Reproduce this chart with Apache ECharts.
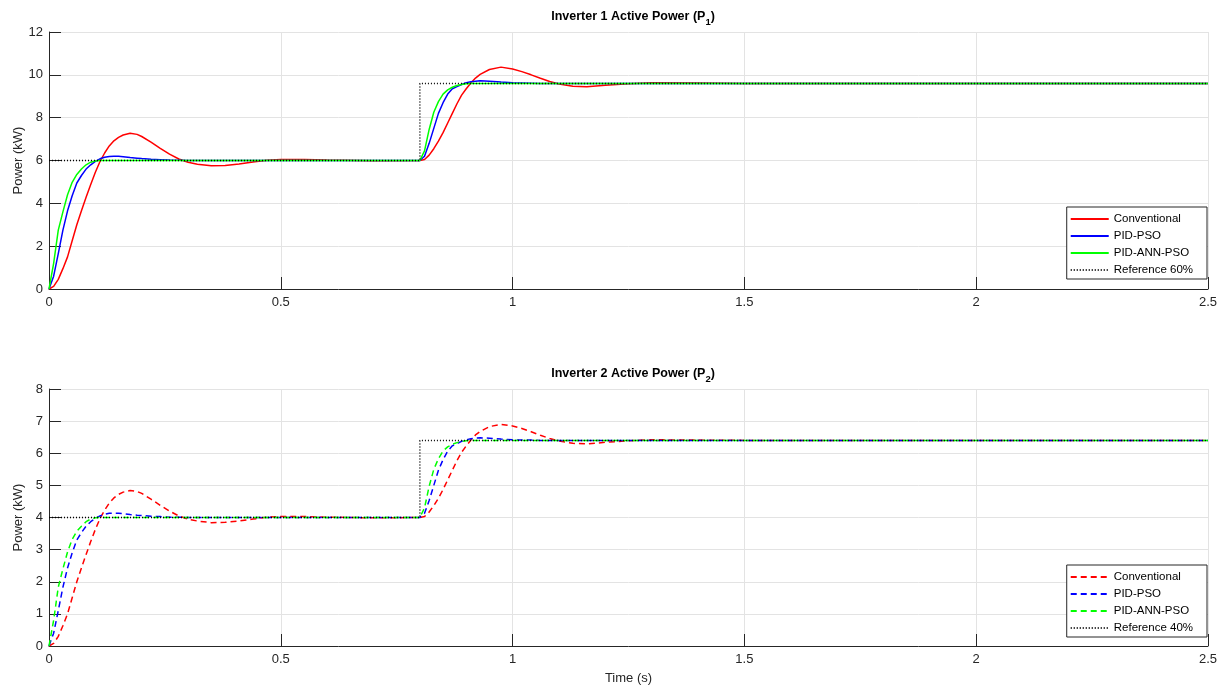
<!DOCTYPE html>
<html>
<head>
<meta charset="utf-8">
<title>Inverter Active Power</title>
<script src="https://cdn.jsdelivr.net/npm/echarts@6/dist/echarts.min.js"></script>
<style>
  html, body { margin: 0; padding: 0; background: #fff; }
  #chart { width: 1227px; height: 693px; }
</style>
</head>
<body>
<div id="chart"></div>
<script>
// time samples (s)
var timeS = [
  0, 0.01, 0.02, 0.03, 0.04, 0.05, 0.06, 0.07, 0.08, 0.09,
  0.10, 0.11, 0.12, 0.13, 0.14, 0.15, 0.16, 0.175, 0.19, 0.20,
  0.22, 0.24, 0.26, 0.28, 0.30, 0.32, 0.35, 0.38, 0.41, 0.44,
  0.47, 0.50, 0.55, 0.60, 0.70, 0.80, 0.81, 0.82, 0.83, 0.84,
  0.85, 0.86, 0.87, 0.88, 0.89, 0.90, 0.91, 0.92, 0.93, 0.95,
  0.975, 1.00, 1.02, 1.04, 1.06, 1.08, 1.10, 1.13, 1.16, 1.20,
  1.25, 1.30, 1.40, 1.50, 2.00, 2.50
];

// inverter 1 (kW)
var p1Conventional = [
  0, 0.12, 0.45, 0.95, 1.5, 2.25, 3.0, 3.65, 4.28, 4.88,
  5.45, 5.95, 6.35, 6.68, 6.92, 7.08, 7.19, 7.27, 7.22, 7.12,
  6.86, 6.57, 6.3, 6.07, 5.92, 5.83, 5.76, 5.77, 5.84, 5.93,
  6.01, 6.05, 6.05, 6.02, 5.99, 6.0, 6.05, 6.25, 6.55, 6.9,
  7.3, 7.75, 8.2, 8.65, 9.05, 9.35, 9.62, 9.85, 10.02, 10.25,
  10.36, 10.27, 10.15, 10.0, 9.84, 9.69, 9.57, 9.47, 9.44, 9.51,
  9.58, 9.63, 9.62, 9.6, 9.6, 9.6
];
var p1PidPso = [
  0, 0.6, 1.65, 2.75, 3.65, 4.35, 4.95, 5.3, 5.6, 5.8,
  5.96, 6.08, 6.15, 6.19, 6.2, 6.2, 6.18, 6.14, 6.11, 6.09,
  6.06, 6.04, 6.02, 6.01, 6.0, 6.0, 6.0, 6.0, 6.0, 6.0,
  6.0, 6.0, 6.0, 6.0, 6.0, 6.0, 6.2, 6.8, 7.5, 8.2,
  8.7, 9.1, 9.35, 9.45, 9.55, 9.63, 9.68, 9.7, 9.72, 9.7,
  9.66, 9.63, 9.62, 9.61, 9.6, 9.6, 9.6, 9.6, 9.6, 9.6,
  9.6, 9.6, 9.6, 9.6, 9.6, 9.6
];
var p1PidAnnPso = [
  0, 1.2, 2.75, 3.6, 4.4, 4.98, 5.35, 5.6, 5.8, 5.92,
  5.98, 6.0, 6.0, 6.0, 6.0, 6.0, 6.0, 6.0, 6.0, 6.0,
  6.0, 6.0, 6.0, 6.0, 6.0, 6.0, 6.0, 6.0, 6.0, 6.0,
  6.0, 6.0, 6.0, 6.0, 6.0, 6.0, 6.45, 7.45, 8.25, 8.75,
  9.1, 9.3, 9.42, 9.5, 9.55, 9.58, 9.6, 9.6, 9.6, 9.6,
  9.6, 9.6, 9.6, 9.6, 9.6, 9.6, 9.6, 9.6, 9.6, 9.6,
  9.6, 9.6, 9.6, 9.6, 9.6, 9.6
];

// inverter 2 (kW)
var p2Conventional = [
  0, 0.08, 0.3, 0.63, 1.0, 1.5, 2.0, 2.43, 2.85, 3.25,
  3.63, 3.97, 4.23, 4.45, 4.61, 4.72, 4.79, 4.84, 4.81, 4.75,
  4.57, 4.38, 4.2, 4.05, 3.95, 3.89, 3.84, 3.85, 3.89, 3.95,
  4.01, 4.03, 4.03, 4.01, 3.99, 4.0, 4.03, 4.17, 4.37, 4.6,
  4.87, 5.17, 5.47, 5.77, 6.03, 6.23, 6.41, 6.57, 6.68, 6.83,
  6.9, 6.85, 6.77, 6.67, 6.56, 6.46, 6.38, 6.31, 6.29, 6.34,
  6.39, 6.42, 6.41, 6.4, 6.4, 6.4
];
var p2PidPso = [
  0, 0.4, 1.1, 1.83, 2.43, 2.9, 3.3, 3.53, 3.73, 3.87,
  3.97, 4.05, 4.1, 4.13, 4.13, 4.13, 4.12, 4.09, 4.07, 4.06,
  4.04, 4.03, 4.01, 4.01, 4.0, 4.0, 4.0, 4.0, 4.0, 4.0,
  4.0, 4.0, 4.0, 4.0, 4.0, 4.0, 4.13, 4.53, 5.0, 5.47,
  5.8, 6.07, 6.23, 6.3, 6.37, 6.42, 6.45, 6.47, 6.48, 6.47,
  6.44, 6.42, 6.41, 6.41, 6.4, 6.4, 6.4, 6.4, 6.4, 6.4,
  6.4, 6.4, 6.4, 6.4, 6.4, 6.4
];
var p2PidAnnPso = [
  0, 0.8, 1.83, 2.4, 2.93, 3.32, 3.57, 3.73, 3.87, 3.95,
  3.99, 4.0, 4.0, 4.0, 4.0, 4.0, 4.0, 4.0, 4.0, 4.0,
  4.0, 4.0, 4.0, 4.0, 4.0, 4.0, 4.0, 4.0, 4.0, 4.0,
  4.0, 4.0, 4.0, 4.0, 4.0, 4.0, 4.3, 4.97, 5.5, 5.83,
  6.07, 6.2, 6.28, 6.33, 6.37, 6.39, 6.4, 6.4, 6.4, 6.4,
  6.4, 6.4, 6.4, 6.4, 6.4, 6.4, 6.4, 6.4, 6.4, 6.4,
  6.4, 6.4, 6.4, 6.4, 6.4, 6.4
];

// reference step
var refTime = [0, 0.8, 0.8, 2.5];
var refP1 = [6, 6, 9.6, 9.6];
var refP2 = [4, 4, 6.4, 6.4];

var xTicks = ['0', '0.5', '1', '1.5', '2', '2.5'];
var legendNames = ['Conventional', 'PID-PSO', 'PID-ANN-PSO'];

var FONT = '"Liberation Sans", Arial, Helvetica, sans-serif';
var AX = '#262626';

function pairs(xs, ys) {
  return xs.map(function (x, i) { return [x, ys[i]]; });
}

function xAxis(idx, showName) {
  return {
    type: 'value', gridIndex: idx, min: 0, max: 2.5, interval: 0.5,
    name: showName ? 'Time (s)' : '', nameLocation: 'middle', nameGap: 26,
    nameTextStyle: { color: AX, fontSize: 13, fontFamily: FONT },
    axisLine: { onZero: false, lineStyle: { color: AX, width: 1 } },
    axisTick: { inside: true, length: 12, lineStyle: { color: AX } },
    axisLabel: { color: AX, fontSize: 13, fontFamily: FONT, margin: 7,
      formatter: function (v) { return xTicks[Math.round(v / 0.5)]; } },
    splitLine: { show: true, lineStyle: { color: '#e3e3e3', width: 1 } }
  };
}

function yAxis(idx, max, step) {
  return {
    type: 'value', gridIndex: idx, min: 0, max: max, interval: step,
    name: 'Power (kW)', nameLocation: 'middle', nameGap: 24, nameRotate: 90,
    nameMoveOverlap: false,
    nameTextStyle: { color: AX, fontSize: 13, fontFamily: FONT },
    axisLine: { show: true, lineStyle: { color: AX, width: 1 } },
    axisTick: { show: true, inside: true, length: 12, lineStyle: { color: AX } },
    axisLabel: { color: AX, fontSize: 13, fontFamily: FONT, margin: 6 },
    splitLine: { show: true, lineStyle: { color: '#e3e3e3', width: 1 } }
  };
}

function line(name, idx, xs, ys, color, type) {
  return {
    name: name, type: 'line', xAxisIndex: idx, yAxisIndex: idx,
    data: pairs(xs, ys), showSymbol: false, symbol: 'none',
    lineStyle: { color: color, width: 1.5, type: type },
    itemStyle: { color: color },
    animation: false
  };
}

function legend(top, names) {
  return {
    orient: 'vertical', right: 20, top: top,
    data: names,
    itemWidth: 38, itemHeight: 14, itemGap: 3,
    padding: [5, 14, 2, 3],
    backgroundColor: '#fff', borderColor: AX, borderWidth: 1,
    itemStyle: { opacity: 0 },
    textStyle: { color: '#000', fontSize: 11.5, fontFamily: FONT, lineHeight: 14 },
    formatter: function (n) { return n.replace(' (P2)', ''); },
    selectedMode: false
  };
}

function title(top, num) {
  return {
    text: '{a|Inverter ' + num + ' Active Power (P}{s|' + num + '}{a|)}',
    left: 628, top: top, textAlign: 'center',
    textStyle: {
      rich: {
        a: { fontSize: 12.5, fontWeight: 'bold', color: '#000', fontFamily: FONT, verticalAlign: 'top' },
        s: { fontSize: 9.5, fontWeight: 'bold', color: '#000', fontFamily: FONT, verticalAlign: 'top', padding: [7, 0, 0, 0] }
      }
    }
  };
}

var chart = echarts.init(document.getElementById('chart'));
chart.setOption({
  animation: false,
  textStyle: { fontFamily: FONT },
  title: [title(5, 1), title(362, 2)],
  grid: [
    { left: 49, right: 19, top: 32, height: 257, outerBoundsMode: 'none' },
    { left: 49, right: 19, top: 389, height: 257, outerBoundsMode: 'none' }
  ],
  xAxis: [xAxis(0, false), xAxis(1, true)],
  yAxis: [yAxis(0, 12, 2), yAxis(1, 8, 1)],
  legend: [
    legend(207, legendNames.concat(['Reference 60%'])),
    legend(565, legendNames.map(function (n) { return n + ' (P2)'; }).concat(['Reference 40%']))
  ],
  series: [
    line('Conventional', 0, timeS, p1Conventional, '#ff0000', 'solid'),
    line('PID-PSO', 0, timeS, p1PidPso, '#0000ff', 'solid'),
    line('PID-ANN-PSO', 0, timeS, p1PidAnnPso, '#00ff00', 'solid'),
    line('Reference 60%', 0, refTime, refP1, '#000000', [1, 2]),
    line('Conventional (P2)', 1, timeS, p2Conventional, '#ff0000', [6, 4]),
    line('PID-PSO (P2)', 1, timeS, p2PidPso, '#0000ff', [6, 4]),
    line('PID-ANN-PSO (P2)', 1, timeS, p2PidAnnPso, '#00ff00', [6, 4]),
    line('Reference 40%', 1, refTime, refP2, '#000000', [1, 2])
  ]
});
</script>
</body>
</html>
